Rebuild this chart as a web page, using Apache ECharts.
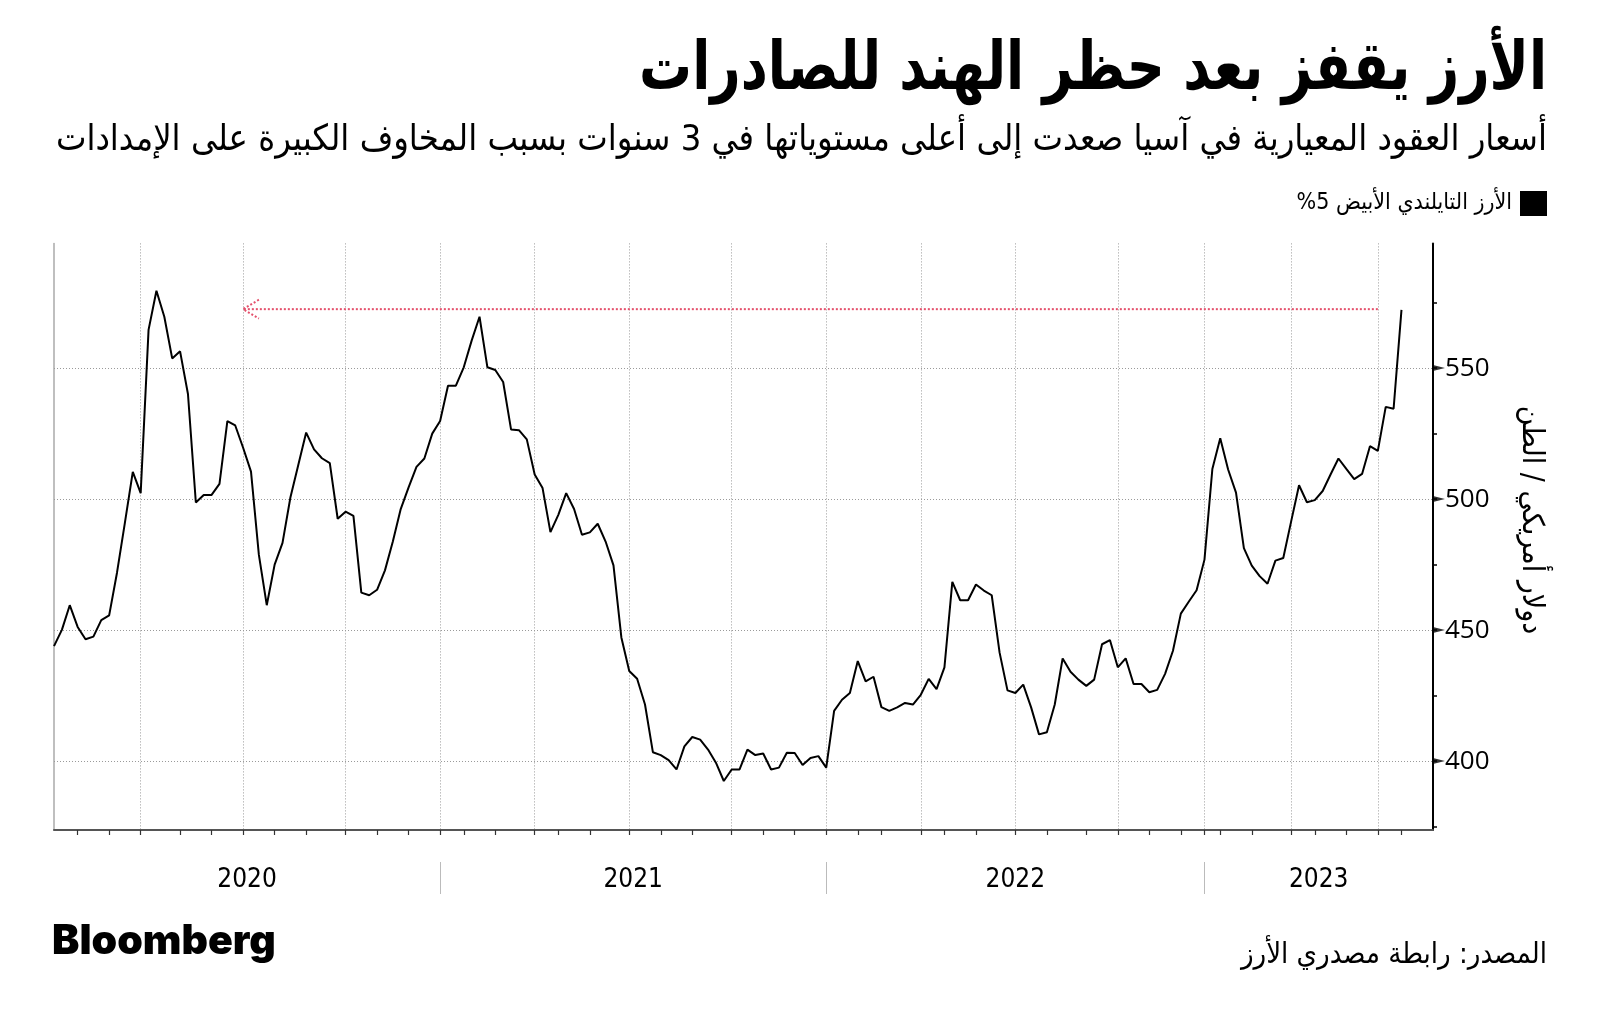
<!DOCTYPE html>
<html>
<head>
<meta charset="utf-8">
<script src="https://cdn.jsdelivr.net/npm/echarts@6/dist/echarts.min.js"></script>
<style>
html,body{margin:0;padding:0;background:#fff;}
#chart{width:1600px;height:1018px;direction:rtl;}
</style>
</head>
<body>
<div id="chart"></div>
<script>
// ---- texts ----
const RLM = '\u200F';
const titleText = 'الأرز يقفز بعد حظر الهند للصادرات';
const subtitleText = 'أسعار العقود المعيارية في آسيا صعدت إلى أعلى مستوياتها في 3 سنوات بسبب المخاوف الكبيرة على الإمدادات';
const seriesName = RLM + 'الأرز التايلندي الأبيض 5%' + RLM;
const yAxisTitle = 'دولار أمريكي / الطن';
const sourceText = 'المصدر: رابطة مصدري الأرز';
const brandText = 'Bloomberg';

// ---- data: weekly Thai 5% white rice price (USD/t) ----
const prices = [
  443.9, 450.1, 459.5, 451.2, 446.5, 447.5, 453.8, 455.6, 472.0, 491.0,
  510.4, 502.3, 564.6, 579.5, 569.6, 553.7, 556.4, 540.1, 498.7, 501.6,
  501.6, 505.8, 529.8, 528.1, 519.6, 510.5, 478.7, 459.5, 475.0, 483.3,
  500.6, 513.0, 525.4, 519.0, 515.6, 513.7, 492.5, 495.2, 493.6, 464.3,
  463.3, 465.4, 472.8, 483.8, 496.2, 504.5, 512.3, 515.5, 525.0, 529.8,
  543.3, 543.3, 550.3, 560.5, 569.6, 550.3, 549.3, 544.7, 526.6, 526.3,
  522.8, 509.4, 504.2, 487.4, 494.0, 502.3, 496.2, 486.4, 487.3, 490.6,
  483.8, 474.7, 447.2, 434.4, 431.4, 421.6, 403.4, 402.3, 400.4, 396.8,
  405.6, 409.2, 408.2, 404.4, 399.4, 392.4, 396.8, 396.8, 404.4, 402.3,
  402.9, 396.8, 397.5, 403.2, 403.1, 398.5, 401.2, 401.9, 397.5, 419.2,
  423.4, 426.0, 438.2, 430.4, 432.2, 420.6, 419.2, 420.5, 422.2, 421.6,
  425.3, 431.4, 427.5, 435.8, 468.4, 461.4, 461.4, 467.4, 465.1, 463.3,
  441.4, 427.0, 426.0, 429.2, 420.5, 410.2, 411.0, 421.6, 439.2, 434.1,
  431.1, 428.7, 431.1, 444.6, 446.2, 435.8, 439.2, 429.4, 429.4, 426.3,
  427.2, 433.3, 442.1, 456.3, 460.8, 465.2, 476.9, 511.5, 523.2, 511.3,
  502.5, 481.3, 474.6, 470.6, 467.7, 476.5, 477.5, 491.5, 505.3, 498.8,
  499.6, 503.1, 509.4, 515.5, 511.5, 507.6, 509.6, 520.2, 518.4, 535.2,
  534.5, 572.2
];

// ---- x axis (weekly slots) ----
const slotCount = 176;                       // weekly slots across the axis
const weekSlots = Array.from({length: slotCount}, (_, i) => String(i));
const quarterStarts = [11, 24, 37, 49, 61, 73, 86, 98, 110, 122, 135, 146, 157, 168];
const monthTicks = [3, 7, 11, 16, 20, 24, 28, 32, 37, 41, 45, 49, 52, 56, 61, 64, 68, 73, 77, 81,
  86, 90, 94, 98, 102, 105, 110, 113, 117, 122, 126, 131, 135, 139, 143, 146, 148, 152, 157,
  160, 164, 168, 171];
const years = ['2020', '2021', '2022', '2023'];
const yearStarts = [0, 49, 98, 146];
const yearEnds = [49, 98, 146, 175];

// ---- y axis ----
const yMin = 373.7, yMax = 597.6;
const yMajorTicks = [400, 450, 500, 550];
const yMinorTicks = [375, 400, 425, 450, 475, 500, 525, 550, 575];

// ---- annotation: arrow back to the 2020 high ----
const arrowLevel = 572.5;
const arrowFrom = 168;
const arrowTo = 24;
const arrowHeadDx = 2, arrowHeadDy = 3.6;

// half-step slots for year labels / separators
const halfSlots = Array.from({length: (slotCount - 1) * 2 + 1}, (_, k) => String(k / 2));
const yearCenters = years.map((y, i) => (yearStarts[i] + yearEnds[i]) / 2);
const separatorSlots = yearStarts.slice(1);

const arabicFont = "'DejaVu Sans Condensed', 'DejaVu Sans', sans-serif";

const chart = echarts.init(document.getElementById('chart'), null, {renderer: 'canvas'});
chart.setOption({
  animation: false,
  backgroundColor: '#ffffff',
  title: [
    {text: subtitleText, right: 53, top: 123, padding: 0,
     textStyle: {fontFamily: arabicFont, fontWeight: 'normal', fontSize: 36, color: '#000'}},
    {text: sourceText, right: 53, top: 941, padding: 0,
     textStyle: {fontFamily: arabicFont, fontWeight: 'normal', fontSize: 29, color: '#000'}},
    {text: brandText, left: 52, top: 921, padding: 0,
     textStyle: {fontFamily: 'Inter, Roboto, sans-serif', fontWeight: 900, fontSize: 41, color: '#000'}}
  ],
  legend: {
    data: [seriesName], right: 53, top: 191, align: 'right', icon: 'rect', padding: 0,
    itemWidth: 27, itemHeight: 25, selectedMode: false,
    textStyle: {fontFamily: arabicFont, fontSize: 23, color: '#000', padding: [0, 3, 0, 0]}
  },
  graphic: [
    {type: 'text', x: 1547, y: 72, scaleX: 0.876, silent: true,
     style: {text: titleText, fontFamily: arabicFont, fontWeight: 'bold', fontSize: 67, fill: '#000',
             align: 'right', verticalAlign: 'middle'}},
    {type: 'text', x: 1531, y: 520, rotation: -Math.PI / 2, silent: true,
     style: {text: yAxisTitle, fontFamily: arabicFont, fontSize: 30, fill: '#000', align: 'center', verticalAlign: 'middle'}}
  ],
  grid: {left: 54, right: 167, top: 243.4, bottom: 188, containLabel: false},
  xAxis: [
    {
      type: 'category', data: weekSlots, boundaryGap: false,
      axisLine: {show: true, lineStyle: {color: '#555', width: 2}},
      axisTick: {show: true, length: 5, interval: (i) => monthTicks.includes(i),
                 lineStyle: {color: '#333', width: 1.2}},
      axisLabel: {show: false},
      splitLine: {show: true, interval: (i) => quarterStarts.includes(i),
                  lineStyle: {color: '#9a9a9a', width: 1, type: [1, 2]}}
    },
    {
      type: 'category', data: halfSlots, boundaryGap: false, position: 'bottom', offset: 32,
      axisLine: {show: false},
      axisTick: {show: true, length: 32, interval: (k) => separatorSlots.includes(k / 2),
                 lineStyle: {color: '#bbbbbb', width: 1}},
      axisLabel: {show: true, margin: 5, interval: (k) => yearCenters.includes(k / 2),
                  formatter: (v) => { const i = yearCenters.indexOf(Number(v)); return i >= 0 ? years[i] : ''; },
                  fontFamily: arabicFont, fontSize: 26, color: '#000'},
      splitLine: {show: false}
    }
  ],
  yAxis: [
    {
      type: 'value', position: 'right', min: yMin, max: yMax,
      axisLine: {show: true, lineStyle: {color: '#000', width: 2}},
      axisTick: {show: true, length: 4, customValues: yMinorTicks, lineStyle: {color: '#000', width: 1.5}},
      axisLabel: {show: true, customValues: yMajorTicks, margin: 12,
                  fontFamily: "'Open Sans', sans-serif", fontSize: 26, color: '#000'},
      splitLine: {show: false}
    },
    {
      type: 'value', position: 'left', min: yMin, max: yMax,
      axisLine: {show: true, lineStyle: {color: '#aaaaaa', width: 1.5}},
      axisTick: {show: false}, axisLabel: {show: false}, splitLine: {show: false}
    }
  ],
  series: [
    {
      name: 'grid', type: 'line', data: [], silent: true, z: 1,
      markLine: {
        silent: true, symbol: ['none', 'none'], label: {show: false}, animation: false,
        lineStyle: {color: '#9a9a9a', width: 1, type: [1, 2]},
        emphasis: {disabled: true},
        data: yMajorTicks.map(v => ({yAxis: v}))
      }
    },
    {
      name: seriesName, type: 'line', data: prices, showSymbol: false, symbol: 'none',
      color: '#000', lineStyle: {color: '#000', width: 2}, z: 5, silent: true
    },
    {
      name: 'arrow', type: 'line', symbol: 'none', silent: true, z: 4,
      data: [[arrowFrom, arrowLevel], [arrowTo, arrowLevel]],
      lineStyle: {color: '#e4506b', width: 2, type: [2, 2]}
    },
    {
      name: 'arrowHead', type: 'line', symbol: 'none', silent: true, z: 4,
      data: [[arrowTo + arrowHeadDx, arrowLevel + arrowHeadDy], [arrowTo, arrowLevel], [arrowTo + arrowHeadDx, arrowLevel - arrowHeadDy]],
      lineStyle: {color: '#e4506b', width: 2, type: [2, 2]}
    },
    {
      name: 'yTickMarks', type: 'scatter', silent: true, clip: false, z: 6,
      data: yMajorTicks.map(v => [slotCount - 1, v]),
      symbol: 'path://M0,0L12,3L0,6Z', symbolSize: [12, 6], symbolOffset: [6, 0],
      itemStyle: {color: '#000'}
    }
  ]
});
</script>
</body>
</html>
